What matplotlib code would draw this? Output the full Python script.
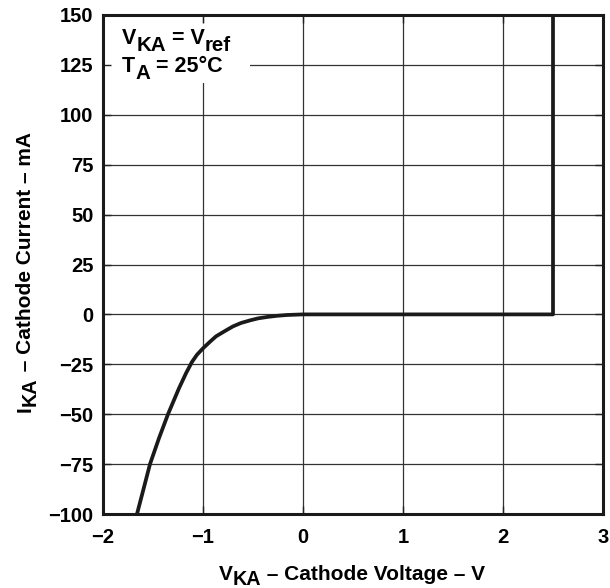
import matplotlib
matplotlib.use("Agg")
import matplotlib.pyplot as plt
from matplotlib.patches import Rectangle

plt.rcParams['font.family'] = ['Liberation Sans', 'DejaVu Sans']
plt.rcParams['font.weight'] = 'bold'

# data
v_ka = [-1.66, -1.60, -1.53, -1.44, -1.35, -1.24, -1.17, -1.11, -1.06, -1.0, -0.93, -0.87, -0.78, -0.70, -0.62, -0.53, -0.45, -0.36, -0.26, -0.16, 0.0, 1.0, 2.0, 2.5, 2.5]
i_ka = [-100, -88.5, -75, -62, -50, -37, -29.5, -23.8, -20.2, -17, -13.7, -11, -8.3, -6, -4.3, -3, -2.0, -1.3, -0.7, -0.3, 0, 0, 0, 0, 150]

x_ticks = [-2, -1, 0, 1, 2, 3]
x_labels = ['\u22122', '\u22121', '0', '1', '2', '3']
y_ticks = [-100, -75, -50, -25, 0, 25, 50, 75, 100, 125, 150]
y_labels = ['\u2212100', '\u221275', '\u221250', '\u221225', '0', '25', '50', '75', '100', '125', '150']

W, H = 610, 588
fig = plt.figure(figsize=(W / 100, H / 100), dpi=100)
ax = fig.add_axes([103 / W, 1 - 514 / H, 500 / W, 499 / H])
ax.set_xlim(-2, 3)
ax.set_ylim(-100, 150)
ax.set_xticks(x_ticks)
ax.set_xticklabels(x_labels, fontsize=14.5, fontweight='bold')
ax.set_yticks(y_ticks)
ax.set_yticklabels(y_labels, fontsize=14.5, fontweight='bold')
ax.tick_params(direction='in', length=5.5, width=1.0, color='#222222', top=True, right=True)
ax.tick_params(axis='x', pad=10)
ax.tick_params(axis='y', pad=7)
for s in ax.spines.values():
    s.set_linewidth(2.2)
    s.set_color('#1a1a1a')
    s.set_zorder(5)

# grid drawn under the legend box
ax.hlines(y_ticks, -2, 3, color='#333333', linewidth=0.9, zorder=1)
ax.vlines(x_ticks, -100, 150, color='#333333', linewidth=0.9, zorder=1)
ax.add_patch(Rectangle((0.0, 0.864), 0.294, 0.12, transform=ax.transAxes,
                       facecolor='white', edgecolor='none', zorder=1.5))

ax.plot(v_ka, i_ka, color='#1a1a1a', linewidth=2.7, solid_joinstyle='round',
        solid_capstyle='butt', zorder=3)

renderer = fig.canvas.get_renderer()


def rich(x_px, y_px, segments, size, rotation=0, sub_scale=0.95, drop=6, center=None):
    """Draw text segments (text, is_sub) starting at pixel baseline (from top-left)."""
    total = 0.0
    for txt, sub in segments:
        fs = size * sub_scale if sub else size
        t = fig.text(0, 0, txt, fontsize=fs, fontweight='bold')
        total += t.get_window_extent(renderer).width
        t.remove()
    if center is not None:
        if rotation == 0:
            x_px = center - total / 2
        else:
            y_px = center + total / 2
    x = x_px
    y = H - y_px
    for txt, sub in segments:
        fs = size * sub_scale if sub else size
        if rotation == 0:
            px, py = x, y - (drop if sub else 0)
        else:
            px, py = x + (drop if sub else 0), y
        t = fig.text(px / W, py / H, txt, fontsize=fs, fontweight='bold',
                     rotation=rotation, rotation_mode='anchor',
                     ha='left', va='baseline', zorder=6)
        bb = t.get_window_extent(renderer)
        if rotation == 0:
            x += bb.width
        else:
            y += bb.height


# legend text
rich(122, 44, [('V', False), ('KA', True), (' = V', False), ('ref', True)], 15.5, drop=7)
rich(122, 72, [('T', False), ('A', True), (' = 25\u00b0C', False)], 15.5, drop=7)

# axis labels
rich(0, 580, [('V', False), ('KA', True), (' \u2013 Cathode Voltage \u2013 V', False)], 15,
     drop=5, center=352)
rich(31, 0, [('I', False), ('KA', True), (' \u2013 Cathode Current \u2013 mA', False)], 15,
     rotation=90, drop=5, center=272)

fig.savefig('out.png', dpi=100)
